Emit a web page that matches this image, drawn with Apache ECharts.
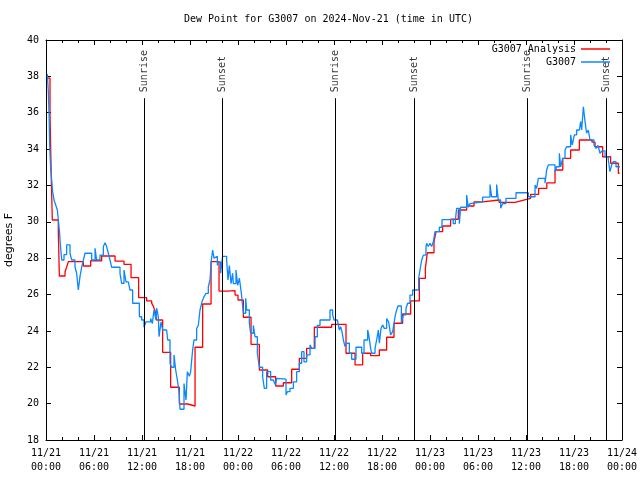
<!DOCTYPE html>
<html><head><meta charset="utf-8">
<script src="https://cdn.jsdelivr.net/npm/echarts@6/dist/echarts.min.js"></script>
<style>html,body{margin:0;padding:0;background:#fff}#c{width:640px;height:480px}</style>
</head><body><div id="c"></div>
<script>
const titleText = 'Dew Point for G3007 on 2024-Nov-21 (time in UTC)';
const yAxisTitle = 'degrees F';
const anaName = 'G3007 Analysis';
const obsName = 'G3007';
const eventHours = [12.25, 22.03, 36.13, 46.03, 60.15, 70.0];
const eventNames = ['Sunrise', 'Sunset', 'Sunrise', 'Sunset', 'Sunrise', 'Sunset'];
const eventLineTop = 36.8;
const yTicks = { min: 18, max: 40, step: 2 };
const xTicks = { min: 0, max: 72, step: 6 };

// [hours since 11/21 00:00 UTC, dew point F]
const anaReadings = [
  [0.2,37.9],[0.5,35.93],[0.67,32.2],[0.79,30.1],[1.54,29.45],[1.67,27.02],[2.38,27.25],[2.58,27.5],[2.79,27.81],[4.67,27.57],
  [5.58,27.86],[6.96,28.12],[8.63,27.84],[9.75,27.66],[10.63,26.93],[11.58,25.83],[12.58,25.65],[13.21,25.53],[13.42,25.35],[13.63,25.1],
  [13.83,24.6],[14.58,22.82],[15.58,20.9],[16.67,19.98],[17.71,19.87],[18.63,23.1],[19.58,25.48],[20.63,27.81],[21.63,26.19],[22.6,26.22],
  [23.63,25.97],[24.0,25.7],[24.67,24.75],[25.63,23.26],[26.67,21.85],[27.71,21.48],[28.71,20.97],[29.67,21.15],[30.71,21.89],[31.67,22.49],
  [32.58,23.04],[33.54,24.2],[35.71,24.36],[37.5,22.77],[38.63,22.13],[39.58,22.77],[40.58,22.64],[41.67,22.95],[42.58,23.65],[43.5,24.42],
  [44.58,24.93],[45.58,25.65],[46.67,26.89],[47.42,27.44],[47.67,28.3],[48.5,28.9],[48.75,29.46],[49.58,29.77],[50.58,30.14],[51.54,30.65],
  [52.58,30.87],[53.5,31.1],[54.58,31.2],[56.63,31.07],[58.63,31.18],[59.58,31.29],[60.58,31.51],[61.58,31.84],[62.6,32.14],[63.63,32.85],
  [64.6,33.49],[65.58,33.95],[66.67,34.5],[68.25,34.38],[68.63,34.13],[69.58,33.58],[70.58,33.22],[71.54,32.67],[71.7,32.67]
];

const obsReadings = [
  [0.17,38.13],[0.29,37.16],[0.38,35.97],[0.46,34.2],[0.58,33.0],[0.71,32.3],[0.83,31.66],[1.0,31.2],[1.17,30.98],[1.42,30.65],
  [1.54,30.1],[1.67,29.55],[1.75,29.0],[1.96,27.9],[2.25,28.2],[2.58,28.73],[3.0,28.27],[3.21,27.9],[3.63,27.5],[3.83,27.17],
  [4.04,26.25],[4.25,27.0],[4.46,27.5],[4.67,27.9],[4.88,28.27],[5.71,27.9],[6.13,28.54],[6.33,27.9],[6.75,28.17],[7.17,28.64],
  [7.38,28.85],[7.58,28.64],[7.79,28.27],[8.0,27.9],[8.21,27.5],[9.25,27.17],[9.46,26.62],[9.75,27.35],[10.0,26.7],[10.29,26.8],
  [10.5,26.25],[10.83,25.52],[11.67,24.78],[11.96,24.6],[12.25,24.2],[12.5,24.5],[13.08,24.68],[13.29,24.4],[13.5,25.15],[13.75,24.6],
  [13.83,25.25],[14.04,24.78],[14.13,23.68],[14.38,24.5],[14.58,24.05],[15.08,24.14],[15.21,23.5],[15.5,22.22],[15.71,22.0],[16.0,22.68],
  [16.21,21.85],[16.42,21.3],[16.63,20.66],[16.75,19.69],[17.25,21.11],[17.5,20.2],[17.67,21.76],[17.92,21.5],[18.08,21.76],[18.33,22.95],
  [18.5,23.5],[18.83,24.14],[19.04,24.3],[19.25,25.15],[19.5,25.6],[19.75,25.88],[20.0,26.06],[20.29,26.43],[20.5,26.8],[20.67,27.9],
  [20.83,28.45],[21.0,28.0],[21.25,28.1],[21.42,27.6],[21.54,27.8],[21.83,27.17],[22.08,28.1],[22.58,27.9],[22.75,26.8],[22.92,27.6],
  [23.13,26.6],[23.33,27.17],[23.42,26.6],[23.75,27.35],[23.96,26.5],[24.17,26.9],[24.42,26.06],[24.67,24.97],[24.96,25.79],[25.08,25.15],
  [25.42,24.42],[25.58,23.87],[25.92,24.3],[26.13,23.68],[26.42,22.77],[26.67,22.0],[27.08,21.48],[27.29,20.84],[27.58,21.76],[28.08,21.3],
  [28.42,21.39],[28.67,21.02],[28.83,21.39],[29.04,21.35],[30.0,20.48],[30.17,20.66],[30.5,20.84],[30.92,21.2],[31.33,21.76],[31.67,22.22],
  [31.96,22.86],[32.25,22.3],[32.58,22.68],[33.0,23.23],[33.21,23.04],[33.63,23.68],[33.92,24.3],[34.25,24.6],[35.5,25.15],[35.83,24.88],
  [36.0,24.6],[36.42,24.5],[36.67,24.05],[36.83,24.23],[37.0,23.96],[37.17,23.5],[37.38,23.14],[37.58,23.32],[37.92,22.77],[38.21,22.44],
  [38.75,23.1],[39.46,22.77],[39.75,23.5],[40.21,24.05],[40.38,23.68],[40.58,23.04],[40.71,22.77],[41.13,23.04],[41.33,23.5],[41.54,24.05],
  [41.67,23.32],[41.88,24.14],[42.08,24.33],[42.29,24.14],[42.58,24.68],[42.83,24.5],[43.08,23.78],[43.33,23.96],[43.5,24.42],[43.67,24.88],
  [43.83,25.15],[44.0,25.37],[44.42,24.42],[44.67,24.88],[45.0,25.25],[45.21,25.52],[45.5,25.97],[45.83,26.25],[46.58,26.89],[46.75,27.35],
  [46.96,27.9],[47.17,28.17],[47.5,28.64],[47.58,28.82],[47.79,28.64],[48.0,28.82],[48.21,28.64],[48.42,28.9],[48.63,29.46],[49.17,29.7],
  [49.5,30.12],[50.9,29.9],[51.17,30.1],[51.33,30.74],[51.67,29.9],[51.83,30.8],[52.58,31.47],[52.79,30.8],[53.0,31.0],[53.21,31.1],
  [54.58,31.36],[55.5,32.05],[55.7,31.38],[56.33,32.05],[56.54,31.2],[56.83,30.74],[57.08,31.0],[57.5,31.29],[58.75,31.6],[60.29,31.38],
  [61.13,32.03],[61.33,31.84],[61.54,32.39],[62.38,32.12],[62.58,32.85],[62.79,33.13],[63.63,32.76],[63.83,33.03],[64.17,33.77],[64.33,33.03],
  [64.58,33.49],[64.88,33.95],[65.08,34.13],[65.58,34.78],[65.79,34.23],[66.04,34.78],[66.33,35.05],[66.67,35.14],[66.83,35.51],[66.96,35.05],
  [67.17,36.33],[67.38,35.51],[67.58,34.87],[67.79,35.05],[68.0,34.5],[68.5,34.23],[68.75,34.04],[69.0,34.2],[69.25,33.77],[69.5,33.9],
  [69.88,33.58],[70.29,33.4],[70.5,32.76],[70.71,33.13],[70.92,33.31],[71.25,33.03],[71.75,33.03]
];

const FONT = '"DejaVu Sans Mono", "Liberation Mono", monospace';
const RED = '#ff0000';
const BLUE = '#0a88ff';

function hourToLabel(v) {
  const day = 21 + Math.floor(v / 24);
  const hr = Math.round(v % 24);
  return '11/' + day + '\n' + String(hr).padStart(2, '0') + ':00';
}

function xAxisDef(pos, showLabel) {
  return {
    type: 'value', position: pos, min: xTicks.min, max: xTicks.max, interval: xTicks.step,
    axisLine: { show: true, onZero: false, lineStyle: { color: '#000', width: 1 } },
    axisTick: { show: true, inside: true, length: 5, lineStyle: { color: '#000', width: 1 } },
    minorTick: { show: true, splitNumber: 3, length: 3, lineStyle: { color: '#000', width: 1 } },
    splitLine: { show: false },
    axisLabel: {
      show: showLabel, formatter: hourToLabel, color: '#000', fontFamily: FONT, fontSize: 10,
      lineHeight: 14, margin: 6, hideOverlap: false, showMinLabel: true, showMaxLabel: true
    }
  };
}
function yAxisDef(pos, showLabel) {
  const a = {
    type: 'value', position: pos, min: yTicks.min, max: yTicks.max, interval: yTicks.step,
    axisLine: { show: true, onZero: false, lineStyle: { color: '#000', width: 1 } },
    axisTick: { show: true, inside: true, length: 5, lineStyle: { color: '#000', width: 1 } },
    splitLine: { show: false },
    axisLabel: { show: showLabel, color: '#000', fontFamily: FONT, fontSize: 10, margin: 7 }
  };
  if (showLabel) {
    a.name = yAxisTitle;
    a.nameLocation = 'middle';
    a.nameGap = 31;
    a.nameTextStyle = { color: '#000', fontFamily: '"DejaVu Sans", sans-serif', fontSize: 11 };
  }
  return a;
}

const chart = echarts.init(document.getElementById('c'), null, { renderer: 'canvas' });
const legendCommon = {
  orient: 'vertical', align: 'right', right: 30, icon: 'rect', itemWidth: 29, itemHeight: 1.5, itemGap: 0, padding: 0,
  selectedMode: false, textStyle: { color: '#000', fontFamily: FONT, fontSize: 10 }
};
chart.setOption({
  animation: false,
  backgroundColor: '#fff',
  title: {
    text: titleText, left: 184, top: 14, padding: 0,
    textStyle: { color: '#000', fontFamily: FONT, fontSize: 10, fontWeight: 'normal' }
  },
  grid: { left: 46, right: 18, top: 40, bottom: 40, containLabel: false, outerBoundsMode: 'none' },
  legend: [
    Object.assign({}, legendCommon, { data: [anaName], top: 44 }),
    Object.assign({}, legendCommon, { data: [obsName], top: 57 })
  ],
  xAxis: [xAxisDef('bottom', true), xAxisDef('top', false)],
  yAxis: [yAxisDef('left', true), yAxisDef('right', false)],
  series: [
    {
      type: 'line', name: anaName, data: anaReadings, step: 'end', symbol: 'none', showSymbol: false,
      lineStyle: { color: RED, width: 1.3 }, itemStyle: { color: RED }, z: 3,
      markLine: {
        silent: true, symbol: ['none', 'none'], label: { show: false },
        lineStyle: { color: '#000', width: 1, type: 'solid' },
        data: eventHours.map(h => [{ coord: [h, yTicks.min] }, { coord: [h, eventLineTop] }])
      }
    },
    {
      type: 'line', name: obsName, data: obsReadings, step: 'end', symbol: 'none', showSymbol: false,
      lineStyle: { color: BLUE, width: 1.3 }, itemStyle: { color: BLUE }, z: 4
    },
    {
      type: 'scatter', name: 'events', data: eventHours.map((h, i) => [h, eventLineTop, eventNames[i]]),
      symbolSize: 0, silent: true, z: 5,
      label: {
        show: true, formatter: p => p.data[2], position: 'top', distance: 6, rotate: 90,
        align: 'left', verticalAlign: 'middle', color: '#000', fontFamily: FONT, fontSize: 10
      }
    }
  ]
});
</script>
</body></html>
